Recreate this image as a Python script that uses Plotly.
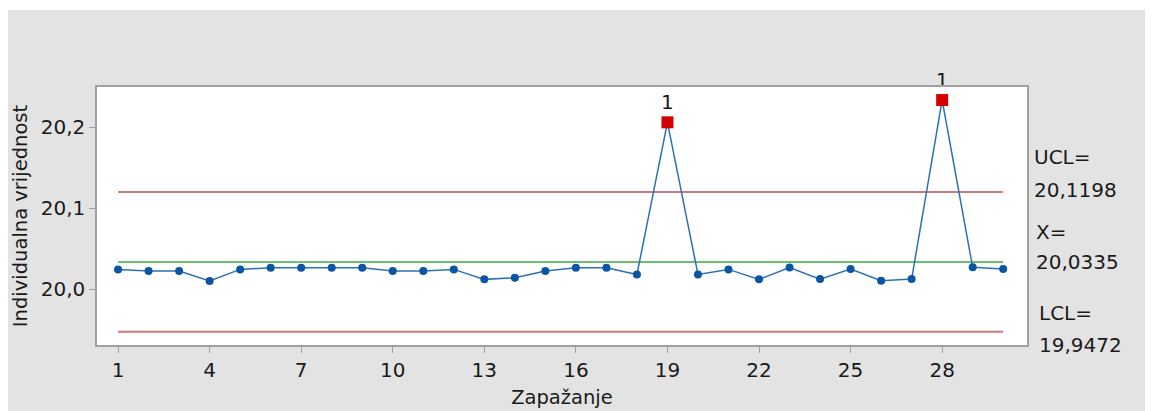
import plotly.graph_objects as go

obs = list(range(1, 31))
values = [20.0243, 20.0222, 20.0222, 20.0099, 20.0243, 20.0263, 20.0263, 20.0263, 20.0263, 20.0222,
          20.0222, 20.0243, 20.0120, 20.0140, 20.0222, 20.0263, 20.0263, 20.0180, 20.2058, 20.0180,
          20.0243, 20.0120, 20.0266, 20.0123, 20.0247, 20.0103, 20.0123, 20.2333, 20.0268, 20.0247]
flag_obs = [19, 28]
flag_labels = ["1", "1"]
UCL = 20.1198
CL = 20.0335
LCL = 19.9472
xticks = [1, 4, 7, 10, 13, 16, 19, 22, 25, 28]
yticks = [20.0, 20.1, 20.2]
ytick_text = ["20,0", "20,1", "20,2"]
limit_names = ["UCL=", "X=", "LCL="]
limit_texts = ["20,1198", "20,0335", "19,9472"]
limit_values = [UCL, CL, LCL]

FONT = "DejaVu Sans"
FS = 20
TXT = "#1a1a1a"
fig = go.Figure()

# limit lines
fig.add_trace(go.Scatter(x=[obs[0], obs[-1]], y=[UCL, UCL], mode="lines",
                         line=dict(color="#cc7a7a", width=2), hoverinfo="skip"))
fig.add_trace(go.Scatter(x=[obs[0], obs[-1]], y=[LCL, LCL], mode="lines",
                         line=dict(color="#cc7a7a", width=2), hoverinfo="skip"))
fig.add_trace(go.Scatter(x=[obs[0], obs[-1]], y=[CL, CL], mode="lines",
                         line=dict(color="#6cbf6c", width=2), hoverinfo="skip"))

# data
fig.add_trace(go.Scatter(x=obs, y=values, mode="lines+markers",
                         line=dict(color="#2f6fb5", width=1.5),
                         marker=dict(color="#0a56a3", size=8)))
fy = [values[o - 1] for o in flag_obs]
fig.add_trace(go.Scatter(x=flag_obs, y=fy, mode="markers+text", text=flag_labels,
                         textposition="top center", cliponaxis=False,
                         textfont=dict(family=FONT, size=FS, color=TXT),
                         marker=dict(color="#d40000", size=12, symbol="square")))

# label placement (style only)
name_shift = [(0, 35), (2, 30), (5, 19)]
val_shift = [(0, 2), (2, 0), (5, -13)]
ann = []
for i in range(3):
    ann.append(dict(xref="paper", yref="y", x=1.0, xshift=5 + name_shift[i][0], y=limit_values[i],
                    yshift=name_shift[i][1], text=limit_names[i], showarrow=False,
                    xanchor="left", yanchor="middle", font=dict(family=FONT, size=FS, color=TXT)))
    ann.append(dict(xref="paper", yref="y", x=1.0, xshift=5 + val_shift[i][0], y=limit_values[i],
                    yshift=val_shift[i][1], text=limit_texts[i], showarrow=False,
                    xanchor="left", yanchor="middle", font=dict(family=FONT, size=FS, color=TXT)))
fig.update_layout(annotations=ann)

# thin white strip at the top of the image
H = 258.0
W = 930.0
fig.add_shape(type="rect", xref="paper", yref="paper", x0=-90/W, x1=1 + 140/W,
              y0=1 + 77/H, y1=1 + 82/H, fillcolor="white", line_width=0, layer="above")

fig.update_layout(
    width=1153, height=411,
    margin=dict(l=89, r=134, t=79, b=74),
    paper_bgcolor="#e3e3e3", plot_bgcolor="white",
    showlegend=False,
    font=dict(family=FONT, size=FS, color=TXT),
    xaxis=dict(range=[0.31, 30.78], tickvals=xticks, ticks="outside", ticklen=6,
               tickcolor="#a0a0a0", showgrid=False, zeroline=False, automargin=False,
               showline=True, linecolor="#a0a0a0", linewidth=1.5, mirror=True,
               tickfont=dict(size=FS),
               title=dict(text="Zapažanje", font=dict(size=19.5), standoff=10)),
    yaxis=dict(range=[19.931, 20.2494], tickvals=yticks, ticktext=ytick_text,
               ticks="outside", ticklen=6, tickcolor="#a0a0a0",
               showgrid=False, zeroline=False, automargin=False,
               showline=True, linecolor="#a0a0a0", linewidth=1.5, mirror=True,
               tickfont=dict(size=FS),
               title=dict(text="Individualna vrijednost", font=dict(size=19.5), standoff=8)),
)

fig.write_html("out.html")
